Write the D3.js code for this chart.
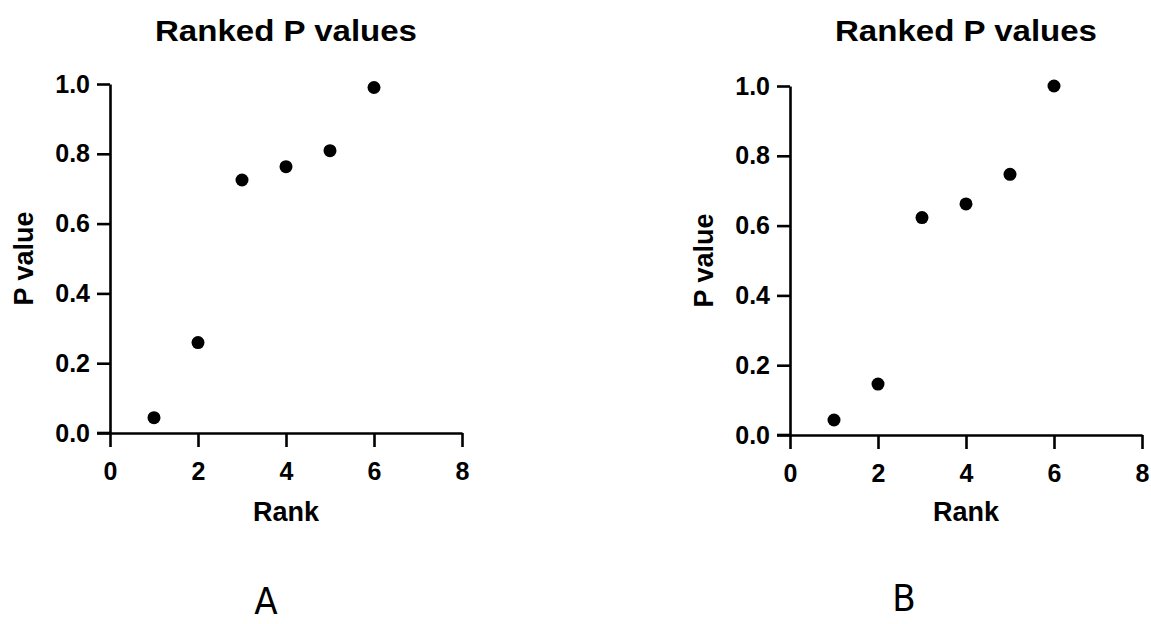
<!DOCTYPE html>
<html>
<head>
<meta charset="utf-8">
<script src="https://cdn.jsdelivr.net/npm/d3@7"></script>
<style>
  body { margin: 0; background: #fff; }
  svg text { font-family: "Liberation Sans", Arial, sans-serif; font-weight: bold; fill: #000; }
</style>
</head>
<body>
<div id="chart"></div>
<script>
// ranks 1..6 and the ranked p values
const ranks = [1, 2, 3, 4, 5, 6];
const pValuesA = [0.044, 0.259, 0.725, 0.763, 0.809, 0.99];
const pValuesB = [0.043, 0.146, 0.623, 0.662, 0.747, 1.0];
const xTicks = [0, 2, 4, 6, 8];
const yTicks = [0, 0.2, 0.4, 0.6, 0.8, 1.0];
const panelLetters = ["A", "B"];

const W = 1151, H = 624;

const svg = d3.select("#chart")
  .append("svg")
  .attr("width", W)
  .attr("height", H);

// plot area of each panel
const panels = [
  { values: pValuesA, left: 110, right: 462, top: 84, bottom: 433, letterX: 266, letterY: 614 },
  { values: pValuesB, left: 790, right: 1142, top: 86, bottom: 435, letterX: 904, letterY: 611 }
];

panels.forEach(function (p, i) {
  const x = d3.scaleLinear().domain([0, 8]).range([p.left, p.right]);
  const y = d3.scaleLinear().domain([0, 1]).range([p.bottom, p.top]);
  const cx = (p.left + p.right) / 2;
  const g = svg.append("g");

  // x axis
  const xAxis = g.append("g")
    .attr("transform", `translate(0,${p.bottom})`)
    .call(d3.axisBottom(x).tickValues(xTicks).tickFormat(d3.format("d"))
      .tickSize(14).tickSizeOuter(0).tickPadding(15));

  // y axis
  const yAxis = g.append("g")
    .attr("transform", `translate(${p.left},0)`)
    .call(d3.axisLeft(y).tickValues(yTicks).tickFormat(d3.format(".1f"))
      .tickSize(13).tickSizeOuter(0).tickPadding(7));

  [xAxis, yAxis].forEach(function (a) {
    a.select(".domain").attr("stroke", "#000").attr("stroke-width", 2.6);
    a.selectAll(".tick line").attr("stroke", "#000").attr("stroke-width", 2.6);
    a.selectAll(".tick text")
      .style("font-size", "25px")
      .style("font-family", "Liberation Sans, Arial, sans-serif")
      .style("font-weight", "bold");
  });

  // extend x axis line left so it meets the 0.0 tick
  g.append("line")
    .attr("x1", p.left - 13).attr("x2", p.left)
    .attr("y1", p.bottom).attr("y2", p.bottom)
    .attr("stroke", "#000").attr("stroke-width", 2.6);

  // points
  g.selectAll("circle")
    .data(ranks.map((r, j) => ({ rank: r, p: p.values[j] })))
    .join("circle")
    .attr("cx", d => x(d.rank))
    .attr("cy", d => y(d.p))
    .attr("r", 6.5)
    .attr("fill", "#000");

  // title
  g.append("text")
    .attr("x", cx)
    .attr("y", 41)
    .attr("text-anchor", "middle")
    .attr("textLength", 262)
    .attr("lengthAdjust", "spacingAndGlyphs")
    .style("font-size", "29px")
    .text("Ranked P values");

  // x label
  g.append("text")
    .attr("x", cx)
    .attr("y", 521)
    .attr("text-anchor", "middle")
    .style("font-size", "27px")
    .text("Rank");

  // y label
  g.append("text")
    .attr("transform", `translate(${p.left - 77},${(p.top + p.bottom) / 2}) rotate(-90)`)
    .attr("text-anchor", "middle")
    .style("font-size", "27px")
    .text("P value");

  // panel letter
  g.append("text")
    .attr("x", p.letterX)
    .attr("y", p.letterY)
    .attr("text-anchor", "middle")
    .style("font-family", "Liberation Sans Narrow, DejaVu Sans Condensed, sans-serif")
    .style("font-weight", "normal")
    .style("font-size", "38px")
    .text(panelLetters[i]);
});
</script>
</body>
</html>
